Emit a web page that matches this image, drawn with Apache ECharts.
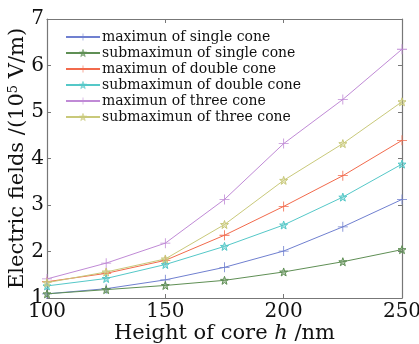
<!DOCTYPE html>
<html><head><meta charset="utf-8">
<script src="https://cdn.jsdelivr.net/npm/echarts@6/dist/echarts.min.js"></script>
<style>html,body{margin:0;padding:0;background:#fff}#c{width:419px;height:344px}</style>
</head><body><div id="c"></div>
<script>
var heights = [100, 125, 150, 175, 200, 225, 250];
var seriesNames = ['maximun of single cone','submaximun of single cone','maximun of double cone','submaximun of double cone','maximun of three cone','submaximun of three cone'];
var singleMax = [1.09, 1.20, 1.39, 1.66, 2.01, 2.53, 3.12];
var singleSub = [1.09, 1.18, 1.27, 1.38, 1.56, 1.78, 2.04];
var doubleMax = [1.35, 1.53, 1.81, 2.35, 2.97, 3.63, 4.39];
var doubleSub = [1.26, 1.42, 1.72, 2.11, 2.57, 3.17, 3.88];
var threeMax = [1.41, 1.75, 2.18, 3.12, 4.32, 5.27, 6.35];
var threeSub = [1.33, 1.56, 1.84, 2.58, 3.53, 4.32, 5.22];
var xTicks = [100, 150, 200, 250];
var yTicks = [1, 2, 3, 4, 5, 6, 7];

var colors = ['#7080d0', '#5f8f55', '#f26a4c', '#55c8c8', '#c08ad6', '#c9c97a'];
var plus = 'path://M0,4.6H10V5.4H0Z M4.6,0H5.4V10H4.6Z';
var star = 'path://M5,0 L6.2,3.6 L10,3.7 L7,6 L8.1,9.6 L5,7.5 L1.9,9.6 L3,6 L0,3.7 L3.8,3.6 Z';
var allData = [singleMax, singleSub, doubleMax, doubleSub, threeMax, threeSub];
var font = 'DejaVu Serif';

var series = allData.map(function (d, i) {
  var isStar = i % 2 === 1;
  return {
    name: seriesNames[i], type: 'line',
    data: d.map(function (v, j) { return [heights[j], v]; }),
    symbol: isStar ? star : plus,
    symbolSize: isStar ? 8 : 10,
    lineStyle: { color: colors[i], width: 1 },
    itemStyle: isStar ? { color: echarts.color.modifyAlpha(colors[i], 0.45), borderColor: colors[i], borderWidth: 1 } : { color: colors[i] },
    emphasis: { disabled: true },
    z: 2 + i
  };
});

var legendData = seriesNames.map(function (n, i) {
  return i % 2 === 1 ? { name: n, itemStyle: { borderWidth: 0.6, color: echarts.color.modifyAlpha(colors[i], 0.6), borderColor: colors[i] } } : { name: n };
});

var chart = echarts.init(document.getElementById('c'), null, { renderer: 'canvas' });
chart.setOption({
  animation: false,
  backgroundColor: '#fff',
  color: colors,
  grid: { left: 47, right: 17, top: 19, bottom: 46, outerBoundsMode: 'none', containLabel: false },
  legend: {
    left: 65, top: 29, orient: 'vertical', itemGap: 0, itemWidth: 34, itemHeight: 9, padding: 0,
    data: legendData,
    textStyle: { fontFamily: font, fontSize: 14, lineHeight: 16, height: 16, color: '#111', padding: [0, 0, 0, -3] }
  },
  xAxis: [{
    type: 'value', min: 100, max: 250, interval: 50,
    name: 'Height of core {i|h} /nm', nameLocation: 'middle', nameGap: 25, nameMoveOverlap: false,
    nameTextStyle: { fontFamily: font, fontSize: 21, color: '#111',
      rich: { i: { fontFamily: font, fontStyle: 'italic', fontSize: 21, color: '#111' } } },
    axisLine: { lineStyle: { color: '#777', width: 1.2 } },
    axisTick: { inside: true, length: 4, lineStyle: { color: '#777' } },
    axisLabel: { fontFamily: font, fontSize: 20, color: '#111', margin: 4,
      formatter: function (v) { return xTicks.indexOf(v) >= 0 ? String(v) : ''; } },
    splitLine: { show: false }
  }, {
    type: 'value', position: 'top', min: 100, max: 250, interval: 50,
    axisLine: { show: true, lineStyle: { color: '#777', width: 1.2 } },
    axisTick: { inside: true, length: 4, lineStyle: { color: '#777' } },
    axisLabel: { show: false }, splitLine: { show: false }
  }],
  yAxis: [{
    type: 'value', min: 1, max: 7, interval: 1,
    name: 'Electric fields /(10{s|5} V/m)', nameLocation: 'middle', nameGap: 18, nameMoveOverlap: false,
    nameTextStyle: { fontFamily: font, fontSize: 21, color: '#111',
      rich: { s: { fontFamily: font, fontSize: 13, color: '#111', verticalAlign: 'top', padding: [0, 0, 9, 0] } } },
    axisLine: { show: true, lineStyle: { color: '#777', width: 1.2 } },
    axisTick: { inside: true, length: 4, lineStyle: { color: '#777' } },
    axisLabel: { fontFamily: font, fontSize: 20, color: '#111', margin: 3,
      formatter: function (v) { return yTicks.indexOf(v) >= 0 ? String(v) : ''; } },
    splitLine: { show: false }
  }, {
    type: 'value', position: 'right', min: 1, max: 7, interval: 1,
    axisLine: { show: true, lineStyle: { color: '#777', width: 1.2 } },
    axisTick: { inside: true, length: 4, lineStyle: { color: '#777' } },
    axisLabel: { show: false }, splitLine: { show: false }
  }],
  series: series
});
</script></body></html>
